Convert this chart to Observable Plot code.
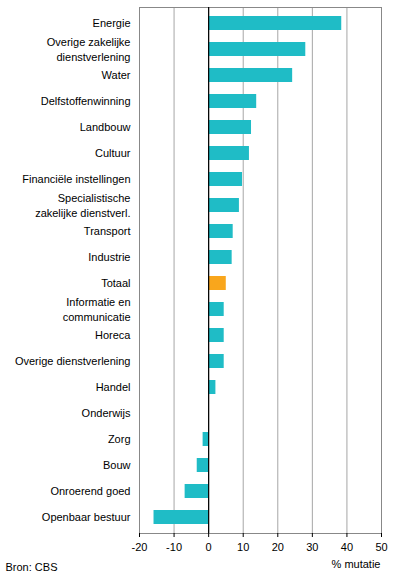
<!DOCTYPE html>
<html>
<head>
<meta charset="utf-8">
<script src="https://cdn.jsdelivr.net/npm/d3@7"></script>
<script src="https://cdn.jsdelivr.net/npm/@observablehq/plot@0.6"></script>
<style>
  html, body { margin: 0; padding: 0; background: #fff; }
  #chart { position: relative; width: 396px; height: 580px; }
  #chart svg { font-family: Arial, "Liberation Sans", sans-serif; }
</style>
</head>
<body>
<div id="chart"></div>
<script>
const categories = [
  "Energie",
  "Overige zakelijke\ndienstverlening",
  "Water",
  "Delfstoffenwinning",
  "Landbouw",
  "Cultuur",
  "Financiële instellingen",
  "Specialistische\nzakelijke dienstverl.",
  "Transport",
  "Industrie",
  "Totaal",
  "Informatie en\ncommunicatie",
  "Horeca",
  "Overige dienstverlening",
  "Handel",
  "Onderwijs",
  "Zorg",
  "Bouw",
  "Onroerend goed",
  "Openbaar bestuur"
];
const values = [38.5, 28.1, 24.3, 13.9, 12.4, 11.8, 9.8, 8.9, 7.1, 6.8, 5.1, 4.5, 4.5, 4.5, 2.1, 0, -1.6, -3.3, -6.8, -15.8];
const highlight = "Totaal";
const xTicks = [-20, -10, 0, 10, 20, 30, 40, 50];

const data = categories.map((c, i) => ({category: c, value: values[i]}));

const plot = Plot.plot({
  width: 396,
  height: 580,
  marginLeft: 139,
  marginRight: 15,
  marginTop: 7,
  marginBottom: 47,
  style: {fontFamily: "Arial, 'Liberation Sans', sans-serif", fontSize: "11px", color: "#000", background: "#fff"},
  x: {domain: [-20, 50], ticks: xTicks},
  y: {domain: categories, paddingInner: 0.47, paddingOuter: 0.235},
  marks: [
    Plot.gridX(xTicks, {stroke: "#a6a6a6", strokeOpacity: 1}),
    Plot.frame({stroke: "#888", strokeWidth: 1}),
    Plot.barX(data, {
      x: "value",
      y: "category",
      fill: d => d.category === highlight ? "#f9a61c" : "#1fbcc6"
    }),
    Plot.ruleX([0], {stroke: "#000", strokeWidth: 1.2}),
    Plot.axisY({tickSize: 0, tickPadding: 9, label: null, fontSize: 11, lineHeight: 1.4, dy: -1}),
    Plot.axisX(xTicks, {tickSize: 4, tickPadding: 6, label: null, fontSize: 11, stroke: "#000", tickFormat: d => String(d)}),
    Plot.text(["% mutatie"], {frameAnchor: "bottom-right", textAnchor: "end", dy: 34, dx: -1, fontSize: 11, fill: "#000"}),
    Plot.text(["Bron: CBS"], {frameAnchor: "bottom-left", textAnchor: "start", dx: -134, dy: 37, fontSize: 11, fill: "#000"})
  ]
});
document.getElementById("chart").appendChild(plot);
</script>
</body>
</html>
